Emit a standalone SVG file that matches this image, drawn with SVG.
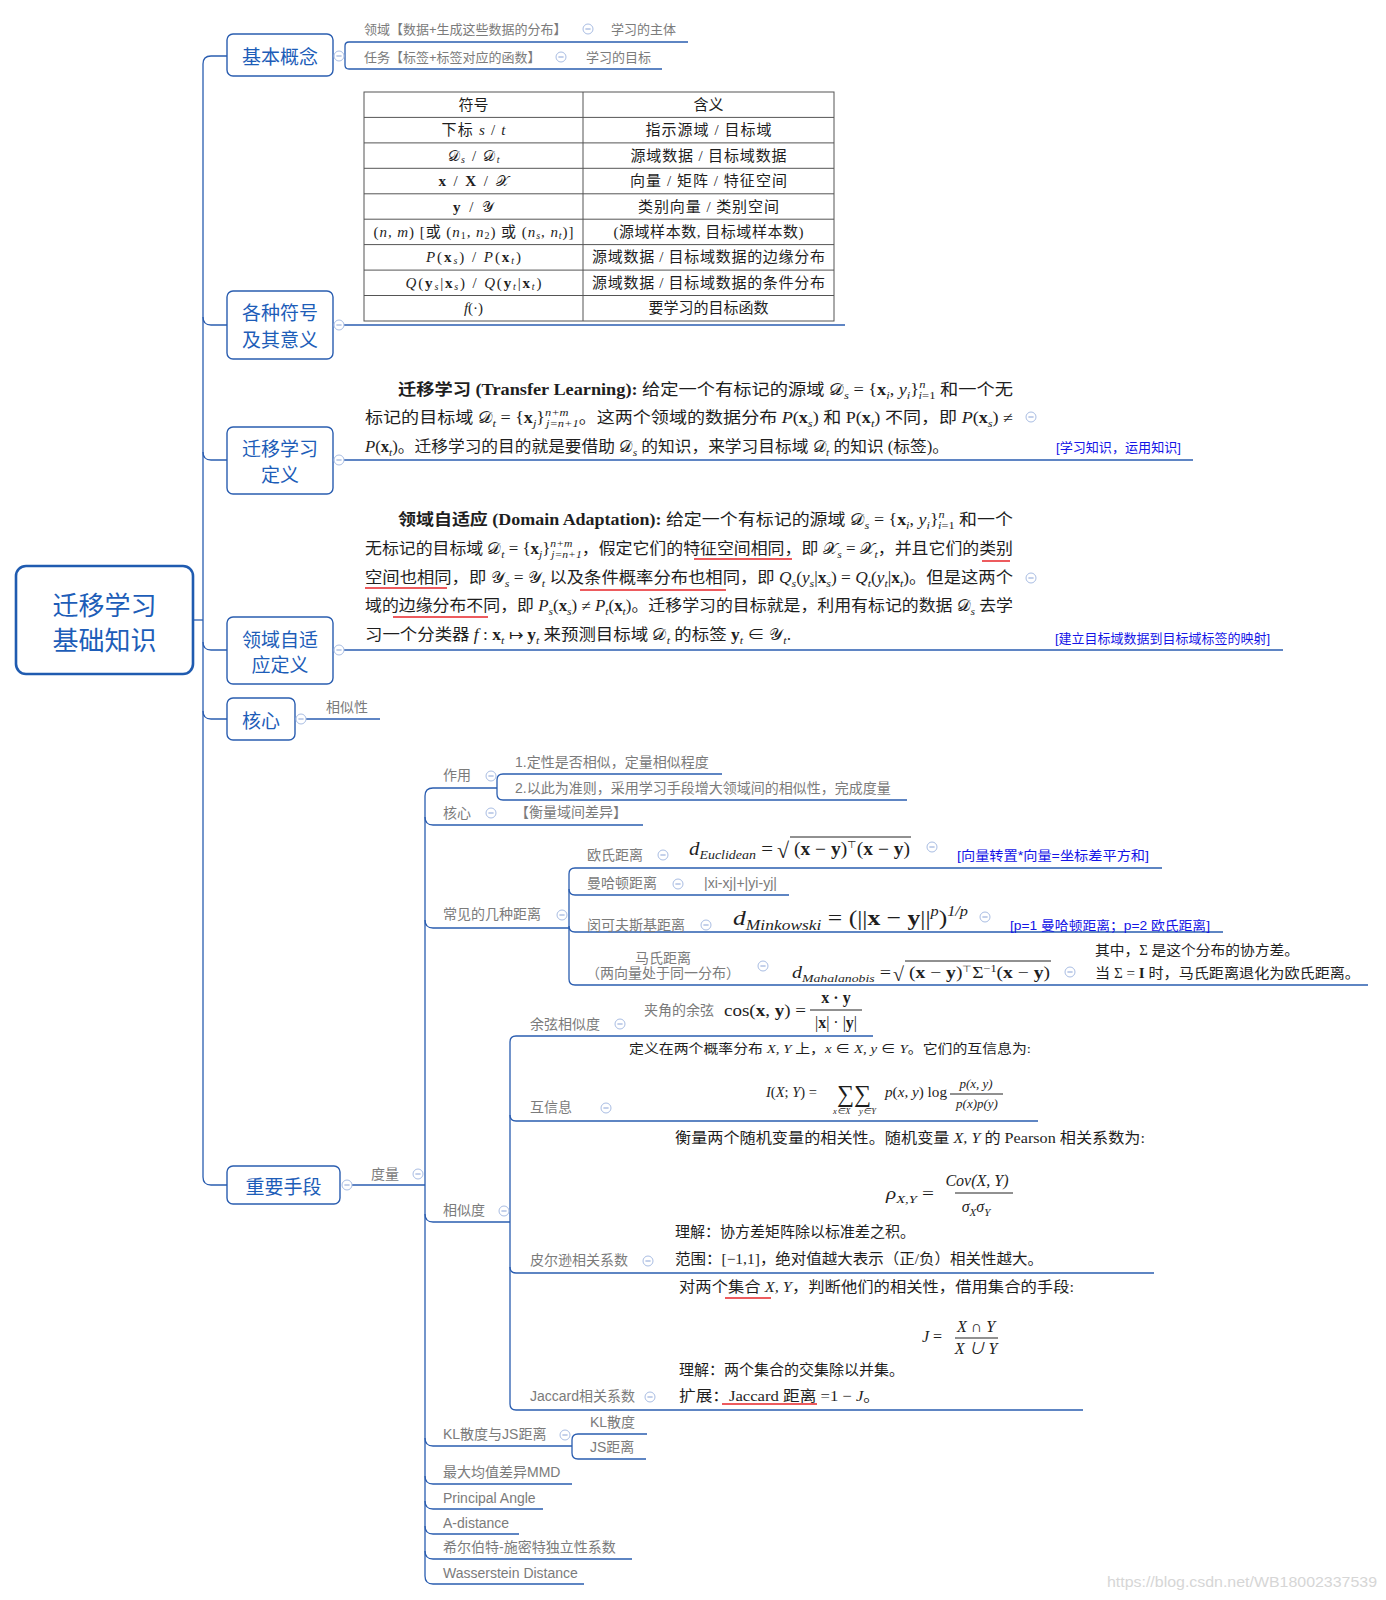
<svg xmlns="http://www.w3.org/2000/svg" width="1386" height="1600" viewBox="0 0 1386 1600">
<defs>
<style>
.ln{fill:none;stroke:#2a5db0;stroke-width:1.3}
.box{fill:#fff;stroke:#2a5db0;stroke-width:1.4}
.root{fill:#fff;stroke:#1f5bb0;stroke-width:2.6}
.nt{font-family:"Noto Sans CJK SC","Liberation Sans",sans-serif;font-size:19px;fill:#1d5db8;text-anchor:middle;dominant-baseline:central}
.rt{font-size:26px}
.lb{font-family:"Liberation Sans","Noto Sans CJK SC",sans-serif;font-size:14px;fill:#7b7b7b;dominant-baseline:central}
.sm{font-size:13px}
.bl{font-family:"Liberation Sans","Noto Sans CJK SC",sans-serif;font-size:13px;fill:#1414e6;dominant-baseline:central}
.tx{font-family:"Liberation Serif","Noto Sans CJK SC",serif;fill:#1e1e1e}
.tb{font-size:15px;dominant-baseline:central}
.p16{font-size:16px}
.mid{text-anchor:middle}
.i{font-style:italic}
.b{font-weight:bold}
.cal{font-family:"DejaVu Serif","DejaVu Sans",serif;font-style:normal;font-weight:normal}
.sb{font-size:10px;baseline-shift:-3px}
.sp{font-size:10px;baseline-shift:6px}
.psb{font-size:11px;baseline-shift:-4px}
.psp{font-size:11px;baseline-shift:7px}
.red{stroke:#e8262a;stroke-width:1.6;fill:none}
.rule{stroke:#222;stroke-width:1}
.tl{stroke:#555;stroke-width:1;fill:none}
</style>
<g id="col"><circle r="5" fill="#fff" stroke="#a9bde3" stroke-width="1"/><path d="M-2.6,0H2.6" stroke="#8aa3d6" stroke-width="1"/></g>
</defs>
<rect width="1386" height="1600" fill="#fff"/>

<g id="connectors" class="ln">
<path d="M193,620H203"/>
<path d="M227,56H211Q203,56 203,64V1177Q203,1185 211,1185H227"/>
<path d="M203,317Q203,325 211,325H227"/>
<path d="M203,452Q203,460 211,460H227"/>
<path d="M203,642Q203,650 211,650H227"/>
<path d="M203,711Q203,719 211,719H227"/>
<path d="M688,42H349Q345,42 345,46V65Q345,69 349,69H662"/>
<path d="M344,325H845"/>
<path d="M344,460H1193"/>
<path d="M344,650H1283"/>
<path d="M306,719H380"/>
<path d="M352,1185H425"/>
<path d="M497,788H433Q425,788 425,796V1576Q425,1584 433,1584H584"/>
<path d="M722,774H503Q497,774 497,780V794Q497,800 503,800H907"/>
<path d="M425,817Q425,825 433,825H643"/>
<path d="M425,920Q425,928 433,928H569"/>
<path d="M1162,868H575Q569,868 569,874V979Q569,985 575,985H1368"/>
<path d="M569,889Q569,895 575,895H789"/>
<path d="M569,926Q569,932 575,932H1223"/>
<path d="M425,1214Q425,1222 433,1222H510"/>
<path d="M873,1036H516Q510,1036 510,1042V1404Q510,1410 516,1410H1083"/>
<path d="M510,1115Q510,1121 516,1121H1038"/>
<path d="M510,1267Q510,1273 516,1273H1154"/>
<path d="M425,1438Q425,1446 433,1446H572"/>
<path d="M647,1434H578Q572,1434 572,1440V1453Q572,1459 578,1459H646"/>
<path d="M425,1476Q425,1484 433,1484H572"/>
<path d="M425,1501Q425,1509 433,1509H543"/>
<path d="M425,1526Q425,1534 433,1534H519"/>
<path d="M425,1551Q425,1559 433,1559H632"/>
</g>

<g id="root">
<rect class="root" x="16" y="566" width="177" height="108" rx="10"/>
<text class="nt rt" x="104.5" y="603">迁移学习</text>
<text class="nt rt" x="104.5" y="638">基础知识</text>
</g>

<g id="n-jibengainian">
<rect class="box" x="227" y="34" width="106" height="42" rx="6"/>
<text class="nt" x="280" y="55.5">基本概念</text>
<use href="#col" x="339" y="56"/>
</g>
<g id="n-lingyu"><text class="lb sm" x="364" y="29">领域【数据+生成这些数据的分布】</text><use href="#col" x="588" y="29"/></g>
<g id="n-zhuti"><text class="lb sm" x="611" y="29">学习的主体</text></g>
<g id="n-renwu"><text class="lb sm" x="364" y="57">任务【标签+标签对应的函数】</text><use href="#col" x="561" y="57"/></g>
<g id="n-mubiao"><text class="lb sm" x="586" y="57">学习的目标</text></g>

<g id="n-fuhao">
<rect class="box" x="227" y="291" width="106" height="68" rx="6"/>
<text class="nt" x="280" y="311">各种符号</text>
<text class="nt" x="280" y="338">及其意义</text>
<use href="#col" x="339" y="325"/>
</g>

<g id="n-table">
<rect class="tl" x="364" y="92" width="470" height="229" stroke-width="1.3"/>
<path class="tl" d="M583,92V321M364,117.4H834M364,142.9H834M364,168.3H834M364,193.8H834M364,219.2H834M364,244.6H834M364,270.1H834M364,295.5H834"/>
<text class="tx tb mid" x="473.5" y="104.7">符号</text>
<text class="tx tb mid" x="708.5" y="104.7">含义</text>
<text class="tx tb" x="441.5" y="130.2" textLength="64" lengthAdjust="spacing">下标 <tspan class="i">s</tspan> / <tspan class="i">t</tspan></text>
<text class="tx tb" x="447.5" y="155.6" textLength="52" lengthAdjust="spacing"><tspan class="cal">𝒟</tspan><tspan class="sb i">s</tspan> / <tspan class="cal">𝒟</tspan><tspan class="sb i">t</tspan></text>
<text class="tx tb" x="438.5" y="181.1" textLength="70" lengthAdjust="spacing"><tspan class="b">x</tspan> / <tspan class="b">X</tspan> / <tspan class="cal">𝒳</tspan></text>
<text class="tx tb" x="453" y="206.5" textLength="41" lengthAdjust="spacing"><tspan class="b">y</tspan> / <tspan class="cal">𝒴</tspan></text>
<text class="tx tb" x="373.5" y="231.9" textLength="200" lengthAdjust="spacing">(<tspan class="i">n, m</tspan>) [或 (<tspan class="i">n</tspan><tspan class="sb">1</tspan>, <tspan class="i">n</tspan><tspan class="sb">2</tspan>) 或 (<tspan class="i">n</tspan><tspan class="sb i">s</tspan>, <tspan class="i">n</tspan><tspan class="sb i">t</tspan>)]</text>
<text class="tx tb" x="426" y="257.4" textLength="95" lengthAdjust="spacing"><tspan class="i">P</tspan>(<tspan class="b">x</tspan><tspan class="sb i">s</tspan>) / <tspan class="i">P</tspan>(<tspan class="b">x</tspan><tspan class="sb i">t</tspan>)</text>
<text class="tx tb" x="405.5" y="282.8" textLength="136" lengthAdjust="spacing"><tspan class="i">Q</tspan>(<tspan class="b">y</tspan><tspan class="sb i">s</tspan>|<tspan class="b">x</tspan><tspan class="sb i">s</tspan>) / <tspan class="i">Q</tspan>(<tspan class="b">y</tspan><tspan class="sb i">t</tspan>|<tspan class="b">x</tspan><tspan class="sb i">t</tspan>)</text>
<text class="tx tb mid" x="473.5" y="308.3"><tspan class="i">f</tspan>(·)</text>
<text class="tx tb" x="645.5" y="130.2" textLength="126" lengthAdjust="spacing">指示源域 / 目标域</text>
<text class="tx tb" x="630.5" y="155.6" textLength="156" lengthAdjust="spacing">源域数据 / 目标域数据</text>
<text class="tx tb" x="630" y="181.1" textLength="157" lengthAdjust="spacing">向量 / 矩阵 / 特征空间</text>
<text class="tx tb" x="638" y="206.5" textLength="141" lengthAdjust="spacing">类别向量 / 类别空间</text>
<text class="tx tb" x="613.5" y="231.9" textLength="190" lengthAdjust="spacing">(源域样本数, 目标域样本数)</text>
<text class="tx tb" x="592" y="257.4" textLength="233" lengthAdjust="spacing">源域数据 / 目标域数据的边缘分布</text>
<text class="tx tb" x="592" y="282.8" textLength="233" lengthAdjust="spacing">源域数据 / 目标域数据的条件分布</text>
<text class="tx tb mid" x="708.5" y="308.3">要学习的目标函数</text>
</g>

<g id="n-qianyidingyi">
<rect class="box" x="227" y="427" width="106" height="67" rx="6"/>
<text class="nt" x="280" y="447">迁移学习</text>
<text class="nt" x="280" y="473">定义</text>
<use href="#col" x="339" y="460"/>
</g>

<g id="n-tl-text">
<text class="tx p16" x="398" y="395" textLength="615" lengthAdjust="spacingAndGlyphs"><tspan class="b">迁移学习 (Transfer Learning):</tspan> 给定一个有标记的源域 <tspan class="cal">𝒟</tspan><tspan class="psb i">s</tspan> = {<tspan class="b">x</tspan><tspan class="psb i">i</tspan>, <tspan class="i">y</tspan><tspan class="psb i">i</tspan>}<tspan class="psp i">n</tspan><tspan class="psb" dx="-6"><tspan class="i">i</tspan>=1</tspan> 和一个无</text>
<text class="tx p16" x="365" y="423" textLength="648" lengthAdjust="spacingAndGlyphs">标记的目标域 <tspan class="cal">𝒟</tspan><tspan class="psb i">t</tspan> = {<tspan class="b">x</tspan><tspan class="psb i">j</tspan>}<tspan class="psp i">n+m</tspan><tspan class="psb i" dx="-20">j=n+1</tspan>。这两个领域的数据分布 <tspan class="i">P</tspan>(<tspan class="b">x</tspan><tspan class="psb i">s</tspan>) 和 P(<tspan class="b">x</tspan><tspan class="psb i">t</tspan>) 不同，即 <tspan class="i">P</tspan>(<tspan class="b">x</tspan><tspan class="psb i">s</tspan>) ≠</text>
<text class="tx p16" x="365" y="452" textLength="584" lengthAdjust="spacingAndGlyphs"><tspan class="i">P</tspan>(<tspan class="b">x</tspan><tspan class="psb i">t</tspan>)。迁移学习的目的就是要借助 <tspan class="cal">𝒟</tspan><tspan class="psb i">s</tspan> 的知识，来学习目标域 <tspan class="cal">𝒟</tspan><tspan class="psb i">t</tspan> 的知识 (标签)。</text>
<use href="#col" x="1031" y="417"/>
</g>
<g id="n-tl-note"><text class="bl" x="1056" y="447" textLength="125" lengthAdjust="spacingAndGlyphs">[学习知识，运用知识]</text></g>

<g id="n-lingyuzishiying">
<rect class="box" x="227" y="617" width="106" height="67" rx="6"/>
<text class="nt" x="280" y="638">领域自适</text>
<text class="nt" x="280" y="663">应定义</text>
<use href="#col" x="339" y="650"/>
</g>

<g id="n-da-text">
<text class="tx p16" x="398" y="525" textLength="615" lengthAdjust="spacingAndGlyphs"><tspan class="b">领域自适应 (Domain Adaptation):</tspan> 给定一个有标记的源域 <tspan class="cal">𝒟</tspan><tspan class="psb i">s</tspan> = {<tspan class="b">x</tspan><tspan class="psb i">i</tspan>, <tspan class="i">y</tspan><tspan class="psb i">i</tspan>}<tspan class="psp i">n</tspan><tspan class="psb" dx="-6"><tspan class="i">i</tspan>=1</tspan> 和一个</text>
<text class="tx p16" x="365" y="554" textLength="648" lengthAdjust="spacingAndGlyphs">无标记的目标域 <tspan class="cal">𝒟</tspan><tspan class="psb i">t</tspan> = {<tspan class="b">x</tspan><tspan class="psb i">j</tspan>}<tspan class="psp i">n+m</tspan><tspan class="psb i" dx="-20">j=n+1</tspan>，假定它们的特征空间相同，即 <tspan class="cal">𝒳</tspan><tspan class="psb i">s</tspan> = <tspan class="cal">𝒳</tspan><tspan class="psb i">t</tspan>，并且它们的类别</text>
<text class="tx p16" x="365" y="583" textLength="648" lengthAdjust="spacingAndGlyphs">空间也相同，即 <tspan class="cal">𝒴</tspan><tspan class="psb i">s</tspan> = <tspan class="cal">𝒴</tspan><tspan class="psb i">t</tspan> 以及条件概率分布也相同，即 <tspan class="i">Q</tspan><tspan class="psb i">s</tspan>(<tspan class="i">y</tspan><tspan class="psb i">s</tspan>|<tspan class="b">x</tspan><tspan class="psb i">s</tspan>) = <tspan class="i">Q</tspan><tspan class="psb i">t</tspan>(<tspan class="i">y</tspan><tspan class="psb i">t</tspan>|<tspan class="b">x</tspan><tspan class="psb i">t</tspan>)。但是这两个</text>
<text class="tx p16" x="365" y="611" textLength="648" lengthAdjust="spacingAndGlyphs">域的边缘分布不同，即 <tspan class="i">P</tspan><tspan class="psb i">s</tspan>(<tspan class="b">x</tspan><tspan class="psb i">s</tspan>) ≠ <tspan class="i">P</tspan><tspan class="psb i">t</tspan>(<tspan class="b">x</tspan><tspan class="psb i">t</tspan>)。迁移学习的目标就是，利用有标记的数据 <tspan class="cal">𝒟</tspan><tspan class="psb i">s</tspan> 去学</text>
<text class="tx p16" x="365" y="640" textLength="426" lengthAdjust="spacingAndGlyphs">习一个分类器 <tspan class="i">f</tspan> : <tspan class="b">x</tspan><tspan class="psb i">t</tspan> ↦ <tspan class="b">y</tspan><tspan class="psb i">t</tspan> 来预测目标域 <tspan class="cal">𝒟</tspan><tspan class="psb i">t</tspan> 的标签 <tspan class="b">y</tspan><tspan class="psb i">t</tspan> ∈ <tspan class="cal">𝒴</tspan><tspan class="psb i">t</tspan>.</text>
<path class="red" d="M694,559H792M982,561H1010M365,588H447M580,590H726M393,617H488"/>
<use href="#col" x="1031" y="578"/>
</g>
<g id="n-da-note"><text class="bl" x="1055" y="638" textLength="215" lengthAdjust="spacingAndGlyphs">[建立目标域数据到目标域标签的映射]</text></g>

<g id="n-hexin">
<rect class="box" x="227" y="698" width="68" height="42" rx="6"/>
<text class="nt" x="261" y="719">核心</text>
<use href="#col" x="301" y="719"/>
</g>
<g id="n-xiangsixing"><text class="lb" x="326" y="707">相似性</text></g>

<g id="n-zhongyaoshouduan">
<rect class="box" x="227" y="1166" width="113" height="38" rx="6"/>
<text class="nt" x="283.5" y="1185">重要手段</text>
<use href="#col" x="347" y="1185"/>
</g>
<g id="n-duliang"><text class="lb" x="371" y="1174">度量</text><use href="#col" x="418" y="1174"/></g>

<g id="n-zuoyong"><text class="lb" x="443" y="775">作用</text><use href="#col" x="491" y="776"/></g>
<g id="n-zy1"><text class="lb" x="515" y="762">1.定性是否相似，定量相似程度</text></g>
<g id="n-zy2"><text class="lb" x="515" y="788">2.以此为准则，采用学习手段增大领域间的相似性，完成度量</text></g>
<g id="n-hexin2"><text class="lb" x="443" y="813">核心</text><use href="#col" x="491" y="813"/></g>
<g id="n-hengliang"><text class="lb" x="515" y="812" fill="#555">【衡量域间差异】</text></g>

<g id="n-juli"><text class="lb" x="443" y="914">常见的几种距离</text><use href="#col" x="562" y="915"/></g>

<g id="n-oushi">
<text class="lb" x="587" y="855">欧氏距离</text><use href="#col" x="663" y="855"/>
<text class="tx" x="689" y="855" font-size="18" textLength="84" lengthAdjust="spacingAndGlyphs"><tspan class="i">d</tspan><tspan class="i" font-size="12" baseline-shift="-4">Euclidean</tspan> =</text>
<text class="tx" x="777" y="858" font-size="22">√</text>
<path class="rule" d="M790,837H911"/>
<text class="tx" x="794" y="855" font-size="18" textLength="116" lengthAdjust="spacingAndGlyphs">(<tspan class="b">x</tspan> − <tspan class="b">y</tspan>)<tspan font-size="10" baseline-shift="7">⊤</tspan>(<tspan class="b">x</tspan> − <tspan class="b">y</tspan>)</text>
<use href="#col" x="932" y="847"/>
<text class="bl" x="957" y="855" textLength="192" lengthAdjust="spacingAndGlyphs">[向量转置*向量=坐标差平方和]</text>
</g>
<g id="n-manhadun">
<text class="lb" x="587" y="883">曼哈顿距离</text><use href="#col" x="678" y="884"/>
<text class="lb" x="704" y="883" textLength="73" lengthAdjust="spacingAndGlyphs">|xi-xj|+|yi-yj|</text>
</g>
<g id="n-minkefusiji">
<text class="lb" x="587" y="925">闵可夫斯基距离</text><use href="#col" x="706" y="925"/>
<text class="tx" x="733" y="925" font-size="22" textLength="235" lengthAdjust="spacingAndGlyphs"><tspan class="i">d</tspan><tspan class="i" font-size="15" baseline-shift="-5">Minkowski</tspan> = (||<tspan class="b">x</tspan> − <tspan class="b">y</tspan>||<tspan class="i" font-size="14" baseline-shift="9">p</tspan>)<tspan class="i" font-size="14" baseline-shift="9">1/p</tspan></text>
<use href="#col" x="985" y="917"/>
<text class="bl" x="1010" y="925" textLength="200" lengthAdjust="spacingAndGlyphs">[p=1 曼哈顿距离；p=2 欧氏距离]</text>
</g>
<g id="n-mashi">
<text class="lb mid" x="663" y="958">马氏距离</text>
<text class="lb mid" x="663" y="973">（两向量处于同一分布）</text>
<use href="#col" x="763" y="966"/>
<text class="tx" x="792" y="978" font-size="16" textLength="99" lengthAdjust="spacingAndGlyphs"><tspan class="i">d</tspan><tspan class="i" font-size="11" baseline-shift="-4">Mahalanobis</tspan> =</text>
<text class="tx" x="893" y="981" font-size="20">√</text>
<path class="rule" d="M905,961H1051"/>
<text class="tx" x="909" y="978" font-size="16" textLength="141" lengthAdjust="spacingAndGlyphs">(<tspan class="b">x</tspan> − <tspan class="b">y</tspan>)<tspan font-size="9" baseline-shift="6">⊤</tspan>Σ<tspan font-size="10" baseline-shift="6">−1</tspan>(<tspan class="b">x</tspan> − <tspan class="b">y</tspan>)</text>
<use href="#col" x="1070" y="972"/>
<text class="tx" x="1095" y="955" font-size="14" textLength="204" lengthAdjust="spacingAndGlyphs">其中，Σ 是这个分布的协方差。</text>
<text class="tx" x="1095" y="978" font-size="14" textLength="265" lengthAdjust="spacingAndGlyphs">当 Σ = <tspan class="b">I</tspan> 时，马氏距离退化为欧氏距离。</text>
</g>

<g id="n-xiangsidu"><text class="lb" x="443" y="1210">相似度</text><use href="#col" x="504" y="1211"/></g>

<g id="n-yuxian">
<text class="lb" x="530" y="1024">余弦相似度</text><use href="#col" x="620" y="1024"/>
<text class="lb" x="644" y="1010">夹角的余弦</text>
<text class="tx" x="724" y="1016" font-size="16" textLength="82" lengthAdjust="spacingAndGlyphs">cos(<tspan class="b">x</tspan>, <tspan class="b">y</tspan>) =</text>
<text class="tx mid b" x="836" y="1003" font-size="16">x · y</text>
<path class="rule" d="M810,1010H862"/>
<text class="tx mid" x="836" y="1028" font-size="16">|<tspan class="b">x</tspan>| · |<tspan class="b">y</tspan>|</text>
</g>

<g id="n-huxinxi">
<text class="lb" x="530" y="1107">互信息</text><use href="#col" x="606" y="1108"/>
<text class="tx" x="629" y="1053" font-size="13" textLength="402" lengthAdjust="spacingAndGlyphs">定义在两个概率分布 <tspan class="i">X, Y</tspan> 上，<tspan class="i">x</tspan> ∈ <tspan class="i">X, y</tspan> ∈ <tspan class="i">Y</tspan>。它们的互信息为:</text>
<text class="tx" x="766" y="1097" font-size="14" textLength="51" lengthAdjust="spacingAndGlyphs"><tspan class="i">I</tspan>(<tspan class="i">X</tspan>; <tspan class="i">Y</tspan>) =</text>
<text class="tx" x="837" y="1102" font-size="24">∑∑</text>
<text class="tx i" x="833" y="1114" font-size="8.5">x∈X</text>
<text class="tx i" x="859" y="1114" font-size="8.5">y∈Y</text>
<text class="tx" x="885" y="1097" font-size="14" textLength="62" lengthAdjust="spacingAndGlyphs"><tspan class="i">p</tspan>(<tspan class="i">x, y</tspan>) log</text>
<text class="tx mid i" x="976" y="1088" font-size="13">p(x, y)</text>
<path class="rule" d="M950,1094H1003"/>
<text class="tx mid i" x="977" y="1108" font-size="13">p(x)p(y)</text>
</g>

<g id="n-pierxun">
<text class="lb" x="530" y="1260">皮尔逊相关系数</text><use href="#col" x="648" y="1261"/>
<text class="tx" x="675" y="1143" font-size="15" textLength="470" lengthAdjust="spacingAndGlyphs">衡量两个随机变量的相关性。随机变量 <tspan class="i">X, Y</tspan> 的 Pearson 相关系数为:</text>
<text class="tx" x="886" y="1199" font-size="16" textLength="48" lengthAdjust="spacingAndGlyphs"><tspan class="i">ρ</tspan><tspan class="i" font-size="11" baseline-shift="-4">X,Y</tspan> =</text>
<text class="tx mid i" x="977" y="1186" font-size="16">Cov(X, Y)</text>
<path class="rule" d="M955,1193H1013"/>
<text class="tx mid i" x="976" y="1212" font-size="16">σ<tspan font-size="11" baseline-shift="-4">X</tspan>σ<tspan font-size="11" baseline-shift="-4">Y</tspan></text>
<text class="tx" x="675" y="1237" font-size="15">理解：协方差矩阵除以标准差之积。</text>
<text class="tx" x="675" y="1264" font-size="15" textLength="368" lengthAdjust="spacingAndGlyphs">范围：[−1,1]，绝对值越大表示（正/负）相关性越大。</text>
</g>

<g id="n-jaccard">
<text class="lb" x="530" y="1396">Jaccard相关系数</text><use href="#col" x="650" y="1397"/>
<text class="tx" x="679" y="1292" font-size="15" textLength="395" lengthAdjust="spacingAndGlyphs">对两个集合 <tspan class="i">X, Y</tspan>，判断他们的相关性，借用集合的手段:</text>
<text class="tx" x="922" y="1342" font-size="16"><tspan class="i">J</tspan> =</text>
<text class="tx mid i" x="976" y="1332" font-size="16">X ∩ Y</text>
<path class="rule" d="M955,1338H998"/>
<text class="tx mid i" x="976" y="1354" font-size="16">X ∪ Y</text>
<text class="tx" x="679" y="1375" font-size="15">理解：两个集合的交集除以并集。</text>
<text class="tx" x="679" y="1401" font-size="15" textLength="201" lengthAdjust="spacingAndGlyphs">扩展：Jaccard 距离 =1 − <tspan class="i">J</tspan>。</text>
<path class="red" d="M725,1298H771M722,1404H817"/>
</g>

<g id="n-kljs"><text class="lb" x="443" y="1434">KL散度与JS距离</text><use href="#col" x="565" y="1435"/></g>
<g id="n-kl"><text class="lb" x="590" y="1422">KL散度</text></g>
<g id="n-js"><text class="lb" x="590" y="1447">JS距离</text></g>
<g id="n-mmd"><text class="lb" x="443" y="1472">最大均值差异MMD</text></g>
<g id="n-pa"><text class="lb" x="443" y="1498" font-size="13">Principal Angle</text></g>
<g id="n-ad"><text class="lb" x="443" y="1523" font-size="13">A-distance</text></g>
<g id="n-hsic"><text class="lb" x="443" y="1547">希尔伯特-施密特独立性系数</text></g>
<g id="n-wd"><text class="lb" x="443" y="1573" font-size="13">Wasserstein Distance</text></g>

<text x="1107" y="1587" font-family="Liberation Sans,sans-serif" font-size="14" fill="#d6d6d6" textLength="270" lengthAdjust="spacingAndGlyphs">https://blog.csdn.net/WB18002337539</text>
</svg>
